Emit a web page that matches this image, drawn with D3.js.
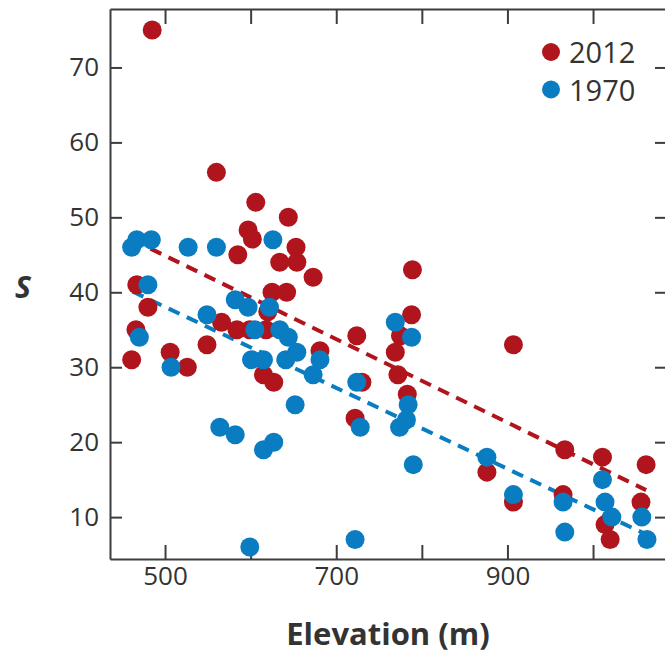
<!DOCTYPE html>
<html>
<head>
<meta charset="utf-8">
<script src="https://cdn.jsdelivr.net/npm/d3@7"></script>
<style>
  html, body { margin: 0; padding: 0; background: #fff; }
  svg { display: block; }
  text { font-family: "Open Sans", "Noto Sans", sans-serif; fill: #333; }
</style>
</head>
<body>
<svg id="chart" width="665" height="654"></svg>
<script>
// Species richness (S) against elevation, survey years 2012 and 1970
const elev2012 = [485, 560, 606, 644, 597, 602, 585, 653, 654, 634, 673, 625, 642, 467, 480, 466, 461, 506, 526, 549,
                  566, 584, 599, 618, 620, 615, 627, 681, 724, 789, 788, 775, 769, 772, 730, 783, 722, 907, 876, 967,
                  1011, 1062, 907, 965, 1056, 1014, 1020];
const rich2012 = [75, 56, 52, 50, 48.3, 47.1, 45, 46, 44, 44, 42, 40, 40, 41, 38, 35, 31, 32, 30, 33,
                  36, 35, 35, 35, 37.4, 29, 28, 32.2, 34.2, 43, 37, 34.2, 32, 29, 28, 26.4, 23.2, 33, 16, 19,
                  18, 17, 12, 13, 12, 9, 7];

const elev1970 = [461, 467, 484, 527, 560, 626, 480, 470, 507, 549, 582, 597, 622, 605, 634, 644, 601, 615, 641, 654,
                  673, 681, 652, 564, 582, 615, 627, 599, 724, 769, 788, 784, 782, 774, 728, 790, 876, 907, 722, 965,
                  967, 1011, 1014, 1022, 1057, 1063];
const rich1970 = [46, 47, 47, 46, 46, 47, 41, 34, 30, 37, 39, 38, 38, 35, 35, 34, 31, 31, 31, 32,
                  29, 31, 25, 22, 21, 19, 20, 6, 28, 36, 34, 25, 23, 22, 22, 17, 18, 13, 7, 12,
                  8, 15, 12, 10, 10, 7];

// Fitted trend lines, given by their end points [elevation, S]
const fit2012 = [[462, 47.0], [1062, 13.6]];
const fit1970 = [[462, 40.1], [1060, 7.8]];

const xTicks = [500, 600, 700, 800, 900, 1000];
const xTickLabels = ["500", "", "700", "", "900", ""];
const yTicks = [10, 20, 30, 40, 50, 60, 70];

const seriesNames = ["2012", "1970"];
const seriesColors = ["#b0141c", "#0a7cc2"];

const svg = d3.select("#chart");
const plotLeft = 110, plotRight = 667, plotTop = 9, plotBottom = 559;

const x = d3.scaleLinear().domain([435.7, 1086.4]).range([plotLeft, plotRight]);
const y = d3.scaleLinear().domain([4.41, 77.8]).range([plotBottom, plotTop]);

const axisColor = "#3d3d3d";

function styleAxis(g) {
  g.select(".domain").attr("stroke", axisColor).attr("stroke-width", 2);
  g.selectAll(".tick line").attr("stroke", axisColor).attr("stroke-width", 2);
  g.selectAll(".tick text").attr("fill", "#333").style("font-size", "26px")
    .style("font-family", "'Open Sans', 'Noto Sans', sans-serif");
}

// Bottom axis with labels on every other tick
svg.append("g")
  .attr("transform", `translate(0,${plotBottom})`)
  .call(d3.axisBottom(x).tickValues(xTicks)
        .tickFormat((d, i) => xTickLabels[i])
        .tickSizeInner(-14).tickSizeOuter(0).tickPadding(8))
  .call(styleAxis);

// Top frame with inward ticks
svg.append("g")
  .attr("transform", `translate(0,${plotTop})`)
  .call(d3.axisTop(x).tickValues(xTicks).tickFormat("")
        .tickSizeInner(-15).tickSizeOuter(0))
  .call(styleAxis);

// Left axis
svg.append("g")
  .attr("transform", `translate(${plotLeft},0)`)
  .call(d3.axisLeft(y).tickValues(yTicks).tickFormat(d3.format("d"))
        .tickSizeInner(-12).tickSizeOuter(0).tickPadding(11))
  .call(styleAxis);

// Right frame with inward ticks
svg.append("g")
  .attr("transform", `translate(${plotRight},0)`)
  .call(d3.axisRight(y).tickValues(yTicks).tickFormat("")
        .tickSizeInner(-12).tickSizeOuter(0))
  .call(styleAxis);

// Trend lines
const line = d3.line().x(d => x(d[0])).y(d => y(d[1]));
[fit2012, fit1970].forEach((f, i) => {
  svg.append("path")
    .datum(f)
    .attr("d", line)
    .attr("fill", "none")
    .attr("stroke", seriesColors[i])
    .attr("stroke-width", 4)
    .attr("stroke-dasharray", "12,8");
});

// Points: 2012 first, 1970 on top
const sets = [
  d3.zip(elev2012, rich2012),
  d3.zip(elev1970, rich1970)
];
sets.forEach((pts, i) => {
  svg.append("g")
    .selectAll("circle")
    .data(pts)
    .join("circle")
    .attr("cx", d => x(d[0]))
    .attr("cy", d => y(d[1]))
    .attr("r", 9.5)
    .attr("fill", seriesColors[i]);
});

// Legend
const legend = svg.append("g").attr("transform", "translate(551,52)");
seriesNames.forEach((name, i) => {
  const g = legend.append("g").attr("transform", `translate(0,${i * 37.5})`);
  g.append("circle").attr("r", 9).attr("fill", seriesColors[i]);
  g.append("text").attr("x", 18).attr("y", 11)
    .style("font-size", "29px").text(name);
});

// Axis titles
svg.append("text")
  .attr("x", 388)
  .attr("y", 645)
  .attr("text-anchor", "middle")
  .style("font-size", "31px")
  .style("font-weight", "bold")
  .text("Elevation (m)");

svg.append("text")
  .attr("x", 23)
  .attr("y", 298)
  .attr("text-anchor", "middle")
  .style("font-size", "30px")
  .style("font-weight", "bold")
  .style("font-style", "italic")
  .text("S");
</script>
</body>
</html>
